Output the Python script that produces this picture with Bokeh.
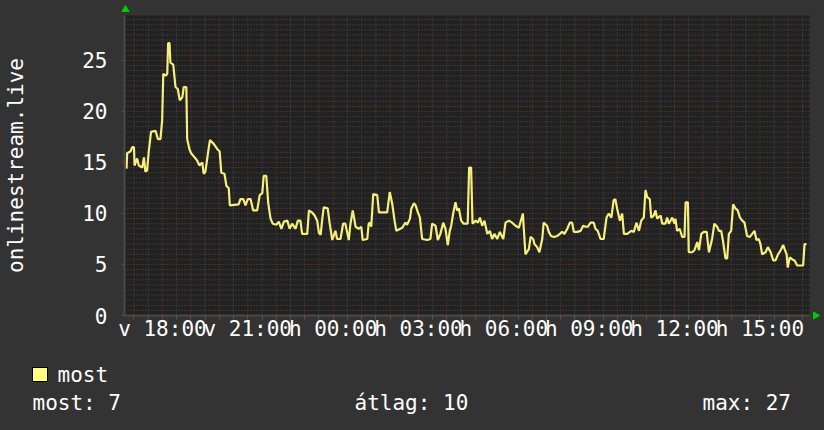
import math
from bokeh.plotting import figure
from bokeh.models import FixedTicker, Range1d
from bokeh.core.properties import value
from bokeh.embed import file_html
from bokeh.resources import INLINE

# ---- data (hours of day, continuing past 24 for next day) ----
hours = [16.74, 16.76, 16.88, 16.94, 17.00, 17.02, 17.11, 17.17, 17.29, 17.35, 17.40, 17.46, 17.52, 17.60,
         17.76, 17.84, 17.93, 17.99, 18.03, 18.11, 18.17, 18.20, 18.25, 18.28, 18.38, 18.46, 18.54, 18.61,
         18.70, 18.75, 18.84, 18.87, 18.95, 19.01, 19.10, 19.22, 19.30, 19.40, 19.45, 19.51, 19.60, 19.67,
         19.81, 19.93, 20.01, 20.07, 20.18, 20.25, 20.33, 20.37, 20.68, 20.74, 20.84, 20.92, 21.00, 21.10,
         21.19, 21.33, 21.42, 21.51, 21.56, 21.65, 21.72, 21.80, 21.88, 22.01, 22.09, 22.18, 22.27, 22.39,
         22.47, 22.56, 22.68, 22.76, 22.85, 22.91, 23.09, 23.15, 23.26, 23.35, 23.44, 23.50, 23.56, 23.62,
         23.67, 23.81, 23.88, 23.97, 24.08, 24.14, 24.26, 24.35, 24.43, 24.49, 24.55, 24.61, 24.69, 24.79,
         24.90, 24.99, 25.04, 25.20, 25.25, 25.29, 25.34, 25.41, 25.55, 25.61, 25.90, 25.99, 26.08, 26.16,
         26.22, 26.43, 26.54, 26.60, 26.70, 26.75, 26.84, 26.90, 26.98, 27.05, 27.13, 27.31, 27.42, 27.48,
         27.60, 27.68, 27.77, 27.87, 27.95, 28.03, 28.10, 28.15, 28.22, 28.30, 28.36, 28.42, 28.50, 28.59,
         28.73, 28.78, 28.85, 28.90, 29.01, 29.09, 29.16, 29.24, 29.32, 29.42, 29.51, 29.59, 29.67, 29.77,
         29.86, 29.98, 30.06, 30.18, 30.29, 30.41, 30.53, 30.67, 30.70, 30.76, 30.88, 30.94, 31.03, 31.08,
         31.17, 31.25, 31.35, 31.40, 31.52, 31.58, 31.66, 31.76, 31.88, 31.97, 32.05, 32.13, 32.23, 32.32,
         32.40, 32.46, 32.58, 32.70, 32.79, 32.87, 32.95, 33.05, 33.16, 33.22, 33.30, 33.40, 33.51, 33.61,
         33.69, 33.78, 33.86, 33.92, 33.98, 34.08, 34.16, 34.22, 34.34, 34.48, 34.57, 34.66, 34.75, 34.83,
         34.92, 34.98, 35.04, 35.13, 35.18, 35.27, 35.33, 35.39, 35.51, 35.57, 35.68, 35.74, 35.80, 35.92,
         36.00, 36.03, 36.09, 36.18, 36.27, 36.35, 36.39, 36.47, 36.50, 36.62, 36.70, 36.80, 36.86, 36.94,
         37.03, 37.13, 37.21, 37.32, 37.40, 37.50, 37.56, 37.64, 37.71, 37.79, 37.85, 37.91, 37.99, 38.06,
         38.14, 38.22, 38.30, 38.38, 38.46, 38.55, 38.65, 38.73, 38.81, 38.88, 38.96, 39.02, 39.08, 39.20,
         39.28, 39.38, 39.47, 39.55, 39.64, 39.73, 39.82, 39.87, 39.94, 39.98, 40.05, 40.14, 40.22, 40.31,
         40.52, 40.57, 40.64]
viewers = [14.4, 15.9, 16.1, 16.5, 16.5, 14.7, 15.4, 14.7, 14.5, 15.5, 14.1, 14.2, 16.1, 18.0,
           18.1, 17.3, 17.3, 19.1, 23.7, 23.5, 23.7, 26.7, 26.7, 24.8, 24.6, 22.4, 22.2, 21.1,
           21.4, 22.4, 22.4, 17.3, 16.3, 15.9, 15.6, 15.2, 14.7, 15.0, 13.9, 14.1, 15.9, 17.2,
           16.8, 16.3, 16.1, 14.0, 13.9, 12.7, 12.5, 10.8, 10.9, 11.4, 11.4, 10.8, 11.4, 11.4,
           10.3, 10.3, 11.8, 12.0, 13.7, 13.7, 11.0, 9.5, 9.0, 8.9, 9.2, 8.5, 9.2, 9.3,
           8.5, 9.0, 8.5, 9.3, 9.3, 8.0, 8.0, 10.3, 10.1, 9.8, 9.3, 8.1, 7.9, 9.5,
           10.6, 10.5, 9.0, 7.4, 8.3, 7.5, 7.5, 9.0, 9.0, 8.2, 7.4, 9.0, 10.3, 8.7,
           8.5, 8.7, 7.4, 7.5, 9.0, 9.1, 8.7, 11.9, 11.8, 10.1, 10.1, 12.1, 10.9, 9.3,
           8.3, 8.6, 9.1, 8.9, 9.5, 10.5, 11.0, 10.8, 10.1, 9.6, 7.5, 7.4, 7.5, 9.0,
           8.8, 7.4, 8.0, 9.1, 8.5, 6.9, 8.3, 8.8, 10.0, 11.1, 10.3, 10.5, 9.3, 9.0,
           9.0, 14.5, 14.5, 9.0, 9.3, 9.1, 9.6, 8.8, 9.3, 8.0, 8.3, 7.5, 8.0, 7.5,
           8.2, 7.5, 9.1, 9.3, 9.1, 8.8, 8.6, 10.0, 8.6, 6.0, 6.5, 7.7, 7.5, 7.0,
           6.7, 6.2, 7.5, 9.1, 8.8, 8.2, 7.8, 7.7, 7.8, 8.0, 8.2, 8.0, 8.5, 9.1,
           9.1, 8.2, 8.2, 8.3, 8.8, 8.7, 8.7, 9.1, 9.1, 8.5, 8.3, 7.5, 7.5, 9.6,
           10.0, 9.6, 11.3, 11.4, 10.5, 9.3, 10.0, 8.0, 8.0, 8.3, 8.2, 9.1, 8.3, 9.3,
           9.6, 12.3, 11.6, 11.4, 9.6, 9.8, 10.3, 9.5, 9.8, 9.0, 9.0, 9.6, 9.0, 9.6,
           9.0, 9.5, 8.3, 8.5, 7.7, 7.7, 11.1, 11.1, 6.2, 6.2, 6.4, 7.2, 6.4, 8.0,
           8.2, 8.2, 6.2, 7.5, 9.0, 8.7, 8.3, 8.3, 7.2, 5.6, 5.6, 8.0, 8.3, 10.9,
           10.5, 10.3, 9.6, 9.3, 9.1, 7.8, 7.7, 8.0, 8.3, 7.4, 7.5, 7.0, 6.0, 6.2,
           6.7, 6.2, 5.4, 5.4, 6.0, 6.4, 6.9, 6.5, 6.0, 4.7, 5.7, 5.5, 5.4, 4.9,
           4.9, 7.0, 7.0]

x_tick_hours = [18, 21, 24, 27, 30, 33, 36, 39]
x_tick_labels = ["v 18:00", "v 21:00", "h 00:00", "h 03:00", "h 06:00", "h 09:00", "h 12:00", "h 15:00"]
y_ticks = [0, 5, 10, 15, 20, 25]
series_name = "most"
y_title = "onlinestream.live"
stat_names = ["most", "átlag", "max"]
stat_values = [7, 10, 27]

# ---- page geometry (pixels) ----
W, H = 824, 430
PX_LEFT, PX_RIGHT, PX_TOP, PX_BOTTOM = 124, 809, 15, 315   # data area on the page
X0, X1 = 16.667, 40.744      # hours shown in the data area
Y0, Y1 = 0.0, 29.41          # values shown in the data area
px_per_x = (PX_RIGHT - PX_LEFT) / (X1 - X0)
px_per_y = (PX_BOTTOM - PX_TOP) / (Y1 - Y0)

BG = "#333333"
PLOT_BG = "#212121"
FONT = "DejaVu Sans Mono"
FS = "21px"
LINE_C = "#f6ef7c"
RED = "#7e3434"
GRAY = "#505050"
GREEN = "#00cc00"

p = figure(width=W, height=H, output_backend="svg", toolbar_location=None,
           x_range=Range1d(X0 - PX_LEFT / px_per_x, X0 + (W - PX_LEFT) / px_per_x),
           y_range=Range1d(Y0 - (H - PX_BOTTOM) / px_per_y, Y0 + PX_BOTTOM / px_per_y),
           min_border_left=0, min_border_right=0, min_border_top=0, min_border_bottom=0)
p.background_fill_color = BG
p.border_fill_color = BG
p.outline_line_color = None
p.extra_x_ranges = {"px": Range1d(0, W)}
p.extra_y_ranges = {"px": Range1d(H, 0)}
p.xgrid.visible = False
p.ygrid.visible = False

# dark data area behind the grid
p.quad(left=[X0], right=[X1], bottom=[Y0], top=[Y1], fill_color=PLOT_BG, line_color=None, level="image")

hour_ticks = list(range(17, 41))
half_ticks = [h + 0.5 for h in range(16, 41) if X0 < h + 0.5 < X1]
y_minor = [i * 0.5 for i in range(1, 59) if i % 10]

# grid restricted to the data area (minor grey, major red, dotted)
p.segment(x0=half_ticks, y0=[Y0] * len(half_ticks), x1=half_ticks, y1=[Y1] * len(half_ticks),
          line_color=GRAY, line_dash="1 2", line_width=1, level="underlay")
p.segment(x0=[X0] * len(y_minor), y0=y_minor, x1=[X1] * len(y_minor), y1=y_minor,
          line_color=GRAY, line_dash="1 2", line_width=1, level="underlay")
p.segment(x0=hour_ticks, y0=[Y0] * len(hour_ticks), x1=hour_ticks, y1=[Y1] * len(hour_ticks),
          line_color=RED, line_dash="1 2", line_width=1, level="underlay")
p.segment(x0=[X0] * len(y_ticks), y0=y_ticks, x1=[X1] * len(y_ticks), y1=y_ticks,
          line_color=RED, line_dash="1 2", line_width=1, level="underlay")

p.xaxis.ticker = FixedTicker(ticks=hour_ticks, minor_ticks=half_ticks)
overrides = {h: "" for h in hour_ticks}
for h, lab in zip(x_tick_hours, x_tick_labels):
    overrides[h] = lab
p.xaxis.major_label_overrides = overrides
p.yaxis.ticker = FixedTicker(ticks=y_ticks, minor_ticks=y_minor)

p.xaxis.bounds = (X0, X1)
p.yaxis.bounds = (Y0, Y1)
p.xaxis.fixed_location = Y0
p.yaxis.fixed_location = X0

for ax in (p.xaxis, p.yaxis):
    ax.major_label_text_font = FONT
    ax.major_label_text_font_size = FS
    ax.major_label_text_color = "white"
    ax.axis_line_color = "#484848"
    ax.axis_line_width = 2
    ax.major_tick_in = 0
    ax.minor_tick_in = 0

p.xaxis.major_tick_out = 4
p.xaxis.major_tick_line_color = "#8a3a3a"
p.xaxis.minor_tick_out = 4
p.xaxis.minor_tick_line_color = "#555555"
p.xaxis.major_label_standoff = -3

p.yaxis.major_tick_out = 3
p.yaxis.major_tick_line_color = "#8a3a3a"
p.yaxis.minor_tick_out = 0
p.yaxis.major_label_standoff = 14
p.yaxis.axis_label = y_title
p.yaxis.axis_label_text_font = FONT
p.yaxis.axis_label_text_font_size = FS
p.yaxis.axis_label_text_font_style = "normal"
p.yaxis.axis_label_text_color = "white"
p.yaxis.axis_label_standoff = 51

p.line(hours, viewers, line_color=LINE_C, line_width=2.2)

# green arrows at the ends of the axes (page pixels)
p.scatter([125], [9], marker="triangle", size=7, fill_color=GREEN, line_color=GREEN,
          x_range_name="px", y_range_name="px")
p.scatter([815], [315], marker="triangle", size=7, angle=-math.pi / 2,
          fill_color=GREEN, line_color=GREEN, x_range_name="px", y_range_name="px")

# legend and summary line (page pixels)
p.quad(left=[32], right=[47], top=[367], bottom=[381], fill_color="#ffff80", line_color="black",
       line_width=1, x_range_name="px", y_range_name="px")
p.text(x=[57], y=[374], text=[series_name], text_font=value(FONT), text_font_size=FS,
       text_color="white", text_baseline="middle", x_range_name="px", y_range_name="px")
p.text(x=[32, 354, 702], y=[402, 402, 402],
       text=[f"{n}: {v}" for n, v in zip(stat_names, stat_values)],
       text_font=value(FONT), text_font_size=FS, text_color="white", text_baseline="middle",
       x_range_name="px", y_range_name="px")

html = file_html(p, INLINE)
html = html.replace("<head>", "<head><style>html,body{background:#333333;}</style>", 1)
open("out.html", "w").write(html)
